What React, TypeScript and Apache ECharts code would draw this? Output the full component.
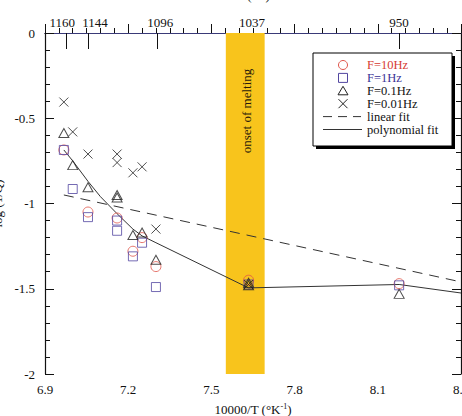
import React, { useEffect, useRef } from "react";
import * as echarts from "echarts";

// Measured attenuation, log(1/Q), against 10000/T for four frequencies
const f10Hz: [number, number][] = [
  [6.968, -0.686], [7.055, -1.05], [7.16, -1.085], [7.217, -1.28],
  [7.25, -1.2], [7.3, -1.37], [7.634, -1.45], [8.177, -1.47],
];
const f1Hz: [number, number][] = [
  [6.968, -0.686], [7.0, -0.915], [7.055, -1.08], [7.16, -1.1],
  [7.16, -1.16], [7.217, -1.31], [7.25, -1.23], [7.3, -1.49],
  [7.634, -1.475], [8.177, -1.48],
];
const f01Hz: [number, number][] = [
  [6.968, -0.587], [7.0, -0.775], [7.055, -0.905], [7.16, -0.95],
  [7.16, -0.965], [7.217, -1.185], [7.25, -1.17], [7.3, -1.33],
  [7.634, -1.465], [7.634, -1.48], [8.177, -1.53],
];
const f001Hz: [number, number][] = [
  [6.968, -0.405], [7.0, -0.58], [7.055, -0.71], [7.16, -0.71],
  [7.16, -0.76], [7.217, -0.82], [7.25, -0.785], [7.3, -1.15],
  [7.634, -1.475],
];
const linearFit: [number, number][] = [[6.968, -0.95], [8.4, -1.46]];
const polyFit: [number, number][] = [
  [6.968, -0.686], [7.0, -0.75], [7.055, -0.87], [7.1, -0.96],
  [7.16, -1.06], [7.217, -1.15], [7.25, -1.19], [7.3, -1.23],
  [7.634, -1.495], [8.177, -1.475], [8.4, -1.525],
];
// Temperatures (°C) marked on the top axis
const topTempsC = [1160, 1144, 1096, 1037, 950];
// Melting onset band in 10000/T
const meltBand: [number, number] = [7.552, 7.692];

const FONT = "Times New Roman, Liberation Serif, serif";
const RED = "#e0554a";
const BLUE = "#5246a0";
const INK = "#222";
const CROSS = "path://M0 0L10 10M10 0L0 10";

export default function App() {
  const ref = useRef<HTMLDivElement>(null);

  useEffect(() => {
    document.body.style.margin = "0";
    const chart = echarts.init(ref.current!, undefined, { renderer: "svg" });
    const topTicks = topTempsC.map((t) => 10000 / (t + 273));
    const hollow = (c: string) => ({ color: "rgba(0,0,0,0)", borderColor: c, borderWidth: 1 });

    const legendX = 343;
    const rowY = (i: number) => 65 + i * 12.9;
    const legendRows = [
      { text: "F=10Hz", color: "#d63a32" },
      { text: "F=1Hz", color: "#3a3296" },
      { text: "F=0.1Hz", color: "#111" },
      { text: "F=0.01Hz", color: "#111" },
      { text: "linear fit", color: "#111" },
      { text: "polynomial fit", color: "#111" },
    ];
    const txt = { color: "#111", fontSize: 13, fontFamily: FONT };
    // Crowded top labels are nudged sideways off their ticks
    const topRich = {
      l9: { ...txt, padding: [0, 9, 0, 0] },
      r13: { ...txt, padding: [0, 0, 0, 13] },
      r6: { ...txt, padding: [0, 0, 0, 6] },
      r7: { ...txt, padding: [0, 0, 0, 7] },
      c: { ...txt },
    };
    const topStyleKeys = ["l9", "r13", "r6", "r7", "c"];

    chart.setOption({
      animation: false,
      textStyle: { fontFamily: FONT },
      grid: { left: 45, right: 1, top: 33, bottom: 42, outerBoundsMode: "none", containLabel: false },
      xAxis: [
        {
          type: "value", min: 6.9, max: 8.4, interval: 0.3, position: "bottom",
          axisLine: { lineStyle: { color: "#111", width: 1.2 } },
          axisTick: { inside: true, length: 9, lineStyle: { color: "#111" } },
          minorTick: { show: true, splitNumber: 6, length: 5, lineStyle: { color: "#111" } },
          splitLine: { show: false },
          axisLabel: { ...txt, margin: 9, hideOverlap: false },
          name: "10000/T (°K{sup|-1})", nameLocation: "middle", nameGap: 28,
          nameTextStyle: {
            ...txt,
            rich: { sup: { fontSize: 8, fontFamily: FONT, color: "#111", verticalAlign: "top", padding: [0, 0, 7, 0] } },
          },
        },
        {
          type: "value", min: 6.9, max: 8.4, position: "top",
          axisLine: { lineStyle: { color: "#3a3a78", width: 1.2 } },
          axisTick: { inside: true, length: 16, customValues: topTicks, lineStyle: { color: "#111" } },
          axisLabel: {
            ...txt, margin: 4, customValues: topTicks, hideOverlap: false,
            showMinLabel: true, showMaxLabel: true,
            formatter: (v: number) => {
              const i = topTicks.findIndex((t) => Math.abs(t - v) < 1e-6);
              const key = topStyleKeys[i] || "c";
              return `{${key}|${Math.round(10000 / v - 273)}}`;
            },
            rich: topRich,
          },
          splitLine: { show: false },
          name: "T (°C)", nameLocation: "middle", nameGap: 31,
          nameTextStyle: txt,
        },
      ],
      yAxis: [
        {
          type: "value", min: -2, max: 0, interval: 0.5, position: "left",
          axisLine: { show: true, lineStyle: { color: "#111", width: 1.2 } },
          axisTick: { inside: true, length: 9, lineStyle: { color: "#111" } },
          minorTick: { show: true, splitNumber: 5, length: 5, lineStyle: { color: "#111" } },
          splitLine: { show: false },
          axisLabel: { ...txt, margin: 10 },
          name: "log (1/Q)", nameLocation: "middle", nameGap: 41, nameRotate: 90,
          nameTextStyle: txt,
        },
        {
          type: "value", min: -2, max: 0, interval: 0.5, position: "right",
          axisLine: { show: true, lineStyle: { color: "#111", width: 1.2 } },
          axisTick: { inside: true, length: 9, lineStyle: { color: "#111" } },
          minorTick: { show: true, splitNumber: 5, length: 5, lineStyle: { color: "#111" } },
          splitLine: { show: false },
          axisLabel: { show: false },
        },
      ],
      series: [
        {
          name: "band", type: "line", data: [], silent: true,
          markArea: {
            silent: true,
            itemStyle: { color: "#f8c41c" },
            data: [[{ xAxis: meltBand[0] }, { xAxis: meltBand[1] }]],
          },
        },
        {
          name: "linear fit", type: "line", data: linearFit, showSymbol: false,
          lineStyle: { color: "#333", width: 1, type: [10, 7] }, z: 3,
        },
        {
          name: "polynomial fit", type: "line", data: polyFit, showSymbol: false,
          lineStyle: { color: "#333", width: 1 }, z: 3,
        },
        { name: "F=10Hz", type: "scatter", data: f10Hz, symbol: "circle", symbolSize: 10, itemStyle: hollow(RED), z: 4 },
        { name: "F=1Hz", type: "scatter", data: f1Hz, symbol: "rect", symbolSize: 9, itemStyle: hollow(BLUE), z: 4 },
        { name: "F=0.1Hz", type: "scatter", data: f01Hz, symbol: "triangle", symbolSize: [10, 9], itemStyle: hollow(INK), z: 4 },
        { name: "F=0.01Hz", type: "scatter", data: f001Hz, symbol: CROSS, symbolSize: 9, itemStyle: hollow(INK), z: 4 },
      ],
      graphic: [
        {
          type: "text", x: 246, y: 111, rotation: Math.PI / 2, z: 10,
          style: { text: "onset of melting", fill: "#2a1a0a", font: `13px ${FONT}`, align: "center", verticalAlign: "middle" },
        },
        { type: "rect", shape: { x: 316, y: 56, width: 139, height: 93 }, style: { fill: "#000" }, z: 10 },
        { type: "rect", shape: { x: 313, y: 53, width: 139, height: 93 }, style: { fill: "#fff", stroke: "#000", lineWidth: 1 }, z: 11 },
        { type: "circle", shape: { cx: legendX, cy: rowY(0), r: 4.5 }, style: { fill: "none", stroke: RED, lineWidth: 1 }, z: 12 },
        { type: "rect", shape: { x: legendX - 4.5, y: rowY(1) - 4.5, width: 9, height: 9 }, style: { fill: "none", stroke: BLUE, lineWidth: 1 }, z: 12 },
        {
          type: "polygon", z: 12,
          shape: { points: [[legendX, rowY(2) - 4.5], [legendX + 5, rowY(2) + 4], [legendX - 5, rowY(2) + 4]] },
          style: { fill: "none", stroke: INK, lineWidth: 1 },
        },
        { type: "line", shape: { x1: legendX - 4.5, y1: rowY(3) - 4.5, x2: legendX + 4.5, y2: rowY(3) + 4.5 }, style: { stroke: INK, lineWidth: 1 }, z: 12 },
        { type: "line", shape: { x1: legendX + 4.5, y1: rowY(3) - 4.5, x2: legendX - 4.5, y2: rowY(3) + 4.5 }, style: { stroke: INK, lineWidth: 1 }, z: 12 },
        { type: "line", shape: { x1: 323, y1: rowY(4), x2: 361, y2: rowY(4) }, style: { stroke: "#333", lineWidth: 1, lineDash: [9, 6] }, z: 12 },
        { type: "line", shape: { x1: 323, y1: rowY(5), x2: 362, y2: rowY(5) }, style: { stroke: "#333", lineWidth: 1 }, z: 12 },
        ...legendRows.map((r, i) => ({
          type: "text", x: 367, y: rowY(i), z: 12,
          style: { text: r.text, fill: r.color, font: `12.5px ${FONT}`, align: "left", verticalAlign: "middle" },
        })),
      ],
    });
    return () => chart.dispose();
  }, []);

  return <div ref={ref} style={{ width: 462, height: 416 }} />;
}
